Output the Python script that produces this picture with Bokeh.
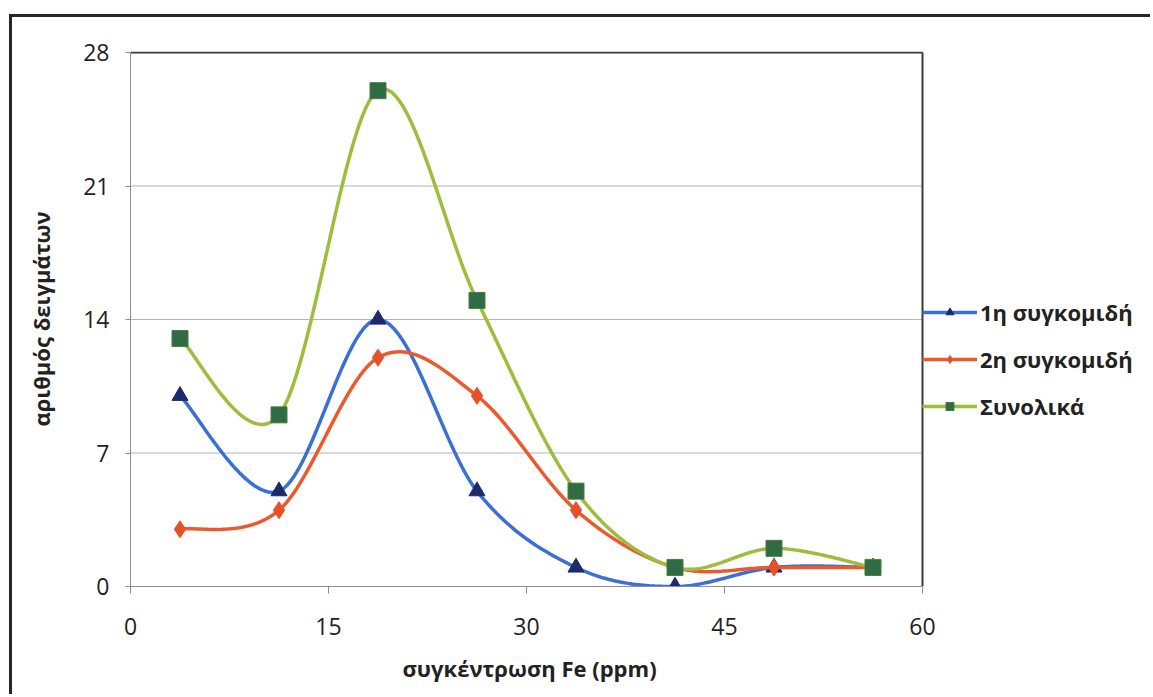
import numpy as np
from bokeh.plotting import figure
from bokeh.models import Legend, LegendItem, FixedTicker, Range1d, Title
from bokeh.embed import file_html
from bokeh.resources import INLINE

# ---- data ----
fe_ppm = [3.75, 11.25, 18.75, 26.25, 33.75, 41.25, 48.75, 56.25]
harvest1 = [10, 5, 14, 5, 1, 0, 1, 1]
harvest2 = [3, 4, 12, 10, 4, 1, 1, 1]
total = [13, 9, 26, 15, 5, 1, 2, 1]
series_names = ["1η συγκομιδή", "2η συγκομιδή", "Συνολικά"]
x_ticks = [0, 15, 30, 45, 60]
y_ticks = [0, 7, 14, 21, 28]
x_title = "συγκέντρωση Fe (ppm)"
y_title = "αριθμός δειγμάτων"

FONT = "Open Sans"
X_MAX, Y_MAX = x_ticks[-1], y_ticks[-1]


def smooth(xs, ys, steps=40):
    """Excel-style smoothed line (Catmull-Rom Bezier through the points)."""
    P = np.column_stack([xs, ys]).astype(float)
    n = len(P)
    out = []
    for i in range(n - 1):
        p0 = P[max(i - 1, 0)]
        p1 = P[i]
        p2 = P[i + 1]
        p3 = P[min(i + 2, n - 1)]
        c1 = p1 + (p2 - p0) / 6.0
        c2 = p2 - (p3 - p1) / 6.0
        t = np.linspace(0, 1, steps)[:, None]
        seg = ((1 - t) ** 3) * p1 + 3 * ((1 - t) ** 2) * t * c1 + 3 * (1 - t) * t ** 2 * c2 + t ** 3 * p2
        if i > 0:
            seg = seg[1:]
        out.append(seg)
    c = np.vstack(out)
    return c[:, 0], c[:, 1]


W, H = 1141, 680
LEFT = 118
PLOT_W = 792           # pixel width of the 0..60 data area
FRAME_W = W - LEFT     # frame extends to the right edge, legend lives inside it
TOP = 34
BOTTOM = 111
FRAME_H = H - TOP - BOTTOM
PLOT_H = 534           # pixel height of the 0..28 data area
p = figure(width=W, height=H,
           x_range=Range1d(0, X_MAX * FRAME_W / PLOT_W),
           y_range=Range1d(0, Y_MAX * FRAME_H / PLOT_H),
           output_backend="svg", toolbar_location=None,
           min_border_left=LEFT, min_border_right=0, min_border_top=TOP, min_border_bottom=BOTTOM,
           margin=(14, 0, 0, 9),
           styles={"border-left": "3px solid #262626", "border-top": "3px solid #262626"})

p.background_fill_color = "white"
p.border_fill_color = "white"
p.outline_line_color = None

# axes
p.xaxis.ticker = FixedTicker(ticks=x_ticks)
p.yaxis.ticker = FixedTicker(ticks=y_ticks)
p.xaxis.bounds = (0, X_MAX)
p.yaxis.bounds = (0, Y_MAX)
for ax in (p.xaxis, p.yaxis):
    ax.axis_line_color = "#8c8a9c"
    ax.axis_line_width = 1
    ax.major_tick_line_color = "#8c8a9c"
    ax.minor_tick_line_color = None
    ax.major_tick_in = 0
    ax.major_label_text_font = FONT
    ax.major_label_text_font_size = "23px"
    ax.major_label_text_color = "#222222"
    ax.axis_label_text_font = FONT
    ax.axis_label_text_font_size = "22px"
    ax.axis_label_text_font_style = "bold"
    ax.axis_label_text_color = "#222222"
p.yaxis.major_tick_out = 5
p.xaxis.major_tick_out = 7
p.yaxis.major_label_standoff = 16
p.xaxis.major_label_standoff = 24

p.yaxis.axis_label = y_title
p.yaxis.axis_label_standoff = 24

# x-axis title, centred under the 0..60 data area
p.add_layout(Title(text=x_title, align="left", offset=272,
                   standoff=27, text_font=FONT, text_font_size="22px",
                   text_font_style="bold", text_color="#222222"), "below")

# grid lines limited to the data area, plus the dark top/right plot-area border
p.xgrid.grid_line_color = None
p.ygrid.grid_line_color = None
grid_y = y_ticks[1:-1]
p.segment(x0=0, x1=X_MAX, y0=grid_y, y1=grid_y, line_color="#b5b0cc", line_width=1)
p.segment(x0=0, x1=X_MAX, y0=Y_MAX, y1=Y_MAX, line_color="#3a3a3a", line_width=2)
p.segment(x0=X_MAX, x1=X_MAX, y0=0, y1=Y_MAX, line_color="#3a3a3a", line_width=2)

styles = [
    dict(line="#3a6fd6", marker="triangle", fill="#1c2a6c", mline="#1c2a6c", size=16),
    dict(line="#ea5a2e", marker="diamond", fill="#e8502a", mline="#e8502a", size=17),
    dict(line="#9dbd3c", marker="square", fill="#2f6c45", mline="#4a7d3a", size=16),
]

items = []
for name, ys, st in zip(series_names, [harvest1, harvest2, total], styles):
    sx, sy = smooth(fe_ppm, ys)
    r1 = p.line(sx, sy, line_color=st["line"], line_width=3.5)
    r2 = p.scatter(fe_ppm, ys, marker=st["marker"], size=st["size"],
                   fill_color=st["fill"], line_color=st["mline"], line_width=1)
    items.append(LegendItem(label=name, renderers=[r1, r2]))

legend = Legend(items=items, location=(PLOT_W, 165), orientation="vertical",
                glyph_width=55, glyph_height=20, label_height=20, spacing=17,
                label_standoff=3, padding=0, margin=0,
                label_text_font=FONT, label_text_font_size="22px",
                label_text_font_style="bold", label_text_color="#222222",
                border_line_color=None, background_fill_alpha=0)
p.add_layout(legend, "center")

open("out.html", "w").write(file_html(p, INLINE))
